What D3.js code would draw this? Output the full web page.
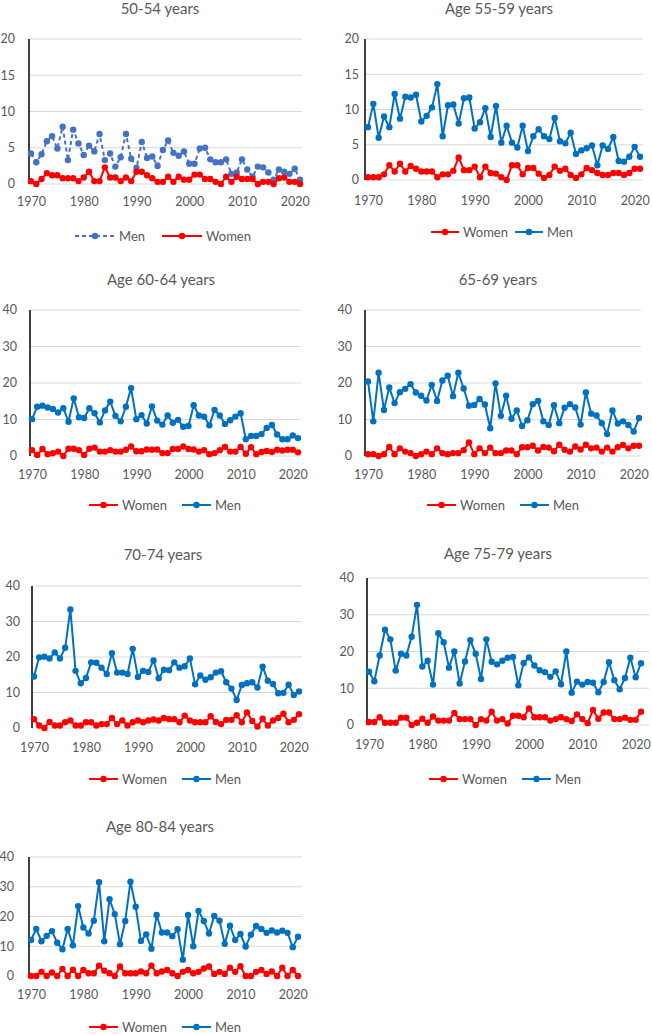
<!DOCTYPE html>
<html>
<head>
<meta charset="utf-8">
<script src="https://cdn.jsdelivr.net/npm/d3@7"></script>
<style>
  html, body { margin: 0; padding: 0; background: #fff; }
  svg { display: block; }
  text { font-family: Lato, "Open Sans", sans-serif; fill: #595959; }
</style>
</head>
<body>
<svg id="chart" width="652" height="1034"></svg>
<script>
// ---------------- DATA ----------------
const years = [1970,1971,1972,1973,1974,1975,1976,1977,1978,1979,1980,1981,1982,1983,1984,1985,1986,1987,1988,1989,
  1990,1991,1992,1993,1994,1995,1996,1997,1998,1999,2000,2001,2002,2003,2004,2005,2006,2007,2008,2009,
  2010,2011,2012,2013,2014,2015,2016,2017,2018,2019,2020,2021];

const xTickLabels = [1970, 1980, 1990, 2000, 2010, 2020];
const yTicks20 = [0, 5, 10, 15, 20];
const yTicks40 = [0, 10, 20, 30, 40];

const titles = ["50-54 years", "Age 55-59 years", "Age 60-64 years", "65-69 years", "70-74 years", "Age 75-79 years", "Age 80-84 years"];
const seriesNames = ["Women", "Men"];

const men5054 = [4.2,3.0,4.1,5.9,6.6,4.9,7.9,3.3,7.5,5.6,4.0,5.3,4.5,6.9,3.3,4.2,2.4,3.7,6.9,3.5,
  2.2,5.8,3.6,3.8,2.5,4.7,6.0,4.3,3.9,4.5,2.8,2.8,4.9,5.0,3.4,3.0,3.0,3.4,1.4,1.6,
  3.4,2.0,1.0,2.4,2.3,1.6,0.6,2.0,1.7,1.4,2.1,0.6];
const women5054 = [0.4,0.0,0.7,1.5,1.2,1.2,0.8,0.8,0.8,0.4,0.9,1.7,0.4,0.4,2.3,0.9,0.9,0.4,0.9,0.4,
  1.7,1.7,1.2,0.8,0.3,0.3,1.0,0.3,1.0,0.6,0.6,1.3,1.3,0.7,0.7,0.3,0.0,1.0,0.3,1.0,
  0.7,0.7,0.7,0.0,0.3,0.3,0.0,0.8,0.9,0.3,0.3,0.0];

const men5559 = [7.5,10.8,6.0,9.0,7.5,12.2,8.7,11.8,11.7,12.1,8.3,9.1,10.3,13.6,6.2,10.6,10.7,8.0,11.6,11.7,
  7.3,8.2,10.2,6.1,10.5,5.3,7.7,5.3,4.6,7.7,4.1,6.2,7.2,6.2,5.8,8.8,5.5,5.2,6.7,3.7,
  4.2,4.5,4.9,2.1,4.9,4.4,6.1,2.7,2.6,3.3,4.7,3.3];
const women5559 = [0.4,0.4,0.4,0.8,2.1,1.2,2.3,1.2,2.0,1.6,1.2,1.2,1.2,0.4,0.8,0.8,1.3,3.2,1.4,1.4,
  1.9,0.4,1.9,1.0,0.9,0.4,0.0,2.1,2.1,0.8,1.7,1.7,0.9,0.3,0.7,1.9,1.3,1.6,0.7,0.3,
  0.8,1.7,1.4,1.0,0.7,0.7,1.0,1.0,0.7,1.0,1.6,1.6];

const men6064 = [10.1,13.5,13.8,13.3,12.9,11.9,13.1,9.4,15.8,10.6,10.4,13.1,11.7,9.2,12.5,14.9,11.0,9.5,13.5,18.6,
  10.1,11.2,8.9,13.6,9.7,8.6,11.1,9.1,9.9,8.0,8.2,13.9,11.1,10.8,8.4,12.6,11.1,8.8,9.8,10.8,
  11.7,4.6,5.5,5.5,6.0,7.7,8.5,5.9,4.6,4.6,5.6,4.9];
const women6064 = [1.6,0.3,1.9,0.5,0.8,1.2,0.0,2.0,2.0,1.6,0.3,2.0,2.3,1.2,1.2,1.6,1.2,1.2,1.7,2.6,
  1.3,1.3,1.8,1.7,1.8,0.8,0.8,1.9,1.9,2.6,1.9,1.8,1.2,1.6,0.5,0.8,1.6,2.5,1.2,1.2,
  2.5,0.6,2.4,0.5,1.1,1.4,1.1,1.7,1.5,1.7,1.7,1.0];

const men6569 = [20.4,9.5,22.8,12.6,18.8,14.5,17.5,18.4,19.7,17.4,16.5,15.2,19.5,15.1,20.7,22.0,16.4,22.8,18.5,13.8,
  14.0,15.6,14.1,7.6,19.9,11.0,16.5,10.2,12.5,8.2,9.8,14.2,15.1,9.5,8.5,13.9,9.0,13.2,14.2,13.3,
  8.6,17.4,11.6,11.1,9.0,6.0,12.5,8.9,9.5,8.5,6.7,10.4];
const women6569 = [0.5,0.5,0.0,0.5,2.5,0.5,2.1,1.2,0.8,0.0,0.5,1.2,0.5,2.1,0.8,0.5,0.8,0.8,1.6,3.7,
  0.5,2.1,0.8,2.3,0.8,0.8,1.5,1.5,0.5,2.4,2.4,2.8,1.5,2.5,2.3,1.3,3.1,1.7,1.2,2.6,
  1.8,3.1,2.1,2.3,1.2,2.3,1.2,2.4,3.0,2.1,2.8,2.8];

const men7074 = [14.5,19.9,20.1,19.6,21.3,19.6,22.6,33.4,16.1,12.6,14.1,18.5,18.4,17.0,15.2,21.1,15.6,15.6,15.2,22.3,
  14.4,16.1,15.8,19.0,14.0,16.4,16.3,18.5,17.0,17.4,19.6,12.3,14.8,13.6,14.3,15.6,16.0,12.9,11.1,7.9,
  12.1,12.6,12.9,11.4,17.3,13.3,12.4,9.8,9.9,12.2,9.3,10.3];
const women7074 = [2.5,0.7,0.0,1.7,0.7,0.7,1.6,2.1,0.7,0.7,1.6,1.6,0.7,1.1,1.1,2.8,1.1,2.1,0.7,1.6,
  2.1,1.6,2.1,2.4,2.1,2.8,2.5,2.5,1.6,3.5,2.1,1.6,1.6,1.6,3.3,1.7,1.1,2.3,2.3,3.6,
  1.6,4.4,2.0,0.4,2.6,0.7,2.1,2.8,4.0,1.6,2.3,3.9];

const men7579 = [14.5,11.9,18.9,25.9,23.3,14.8,19.4,18.9,24.0,32.7,15.9,17.5,11.0,25.0,22.5,15.6,20.0,11.3,17.3,23.1,
  19.4,12.5,23.3,17.2,16.5,17.5,18.3,18.5,10.8,16.9,18.4,16.2,14.9,14.4,13.1,14.6,11.1,20.0,8.8,11.8,
  11.0,11.7,11.5,8.9,11.7,17.1,12.2,9.7,12.8,18.3,13.0,16.8];
const women7579 = [0.8,0.8,2.1,0.6,0.6,0.6,2.0,2.0,0.0,0.6,1.7,0.6,2.3,1.2,1.2,1.2,3.3,1.6,1.6,1.6,
  0.0,1.6,1.2,3.6,1.2,1.6,0.4,2.5,2.5,2.1,4.5,2.1,2.1,2.1,1.2,1.6,2.1,1.6,1.1,2.9,
  1.6,0.5,4.1,1.7,3.4,3.4,1.6,1.6,2.0,1.4,1.4,3.6];

const men8084 = [12.1,15.8,11.7,13.5,15.1,11.2,9.0,15.8,10.3,23.5,16.3,14.3,18.6,31.5,11.7,25.8,20.8,10.7,18.5,31.7,
  23.3,11.8,14.0,9.2,20.5,14.6,14.6,13.4,15.7,5.5,20.5,10.0,21.9,18.5,14.3,20.2,18.6,10.8,16.9,12.1,
  14.1,9.9,13.9,16.8,15.8,14.5,15.3,14.6,15.2,14.5,9.7,13.2];
const women8084 = [0.0,0.0,1.4,0.0,1.2,0.0,2.4,0.0,2.1,0.0,2.0,0.9,0.9,3.5,1.8,0.9,0.0,3.2,0.9,0.9,
  0.9,1.5,0.9,3.5,0.9,1.5,2.0,0.9,0.0,1.4,2.0,0.9,1.4,2.5,3.2,0.7,1.4,0.7,2.8,1.4,
  3.3,0.0,0.0,1.4,2.0,0.7,1.5,0.0,2.8,0.0,2.0,0.0];

// ---------------- LAYOUT ----------------
const panels = [
  { title: titles[0], men: men5054, women: women5054, yTicks: yTicks20, axisX: 29, right: 302, x0: 31, x1: 300, top: 39, bottom: 184,
    titleX: 160, titleY: 14, tickY: 206, labelRight: 15, legendY: 236, legendCx: 163, legendOrder: ["Men","Women"], lineLen: 40, itemGap: 17, dashedMen: true },
  { title: titles[1], men: men5559, women: women5559, yTicks: yTicks20, axisX: 365, right: 643, x0: 368, x1: 640, top: 39, bottom: 180,
    titleX: 499, titleY: 14, tickY: 205, labelRight: 359, legendY: 232, legendCx: 502, legendOrder: ["Women","Men"], lineLen: 28, itemGap: 7 },
  { title: titles[2], men: men6064, women: women6064, yTicks: yTicks40, axisX: 30, right: 301, x0: 32, x1: 298, top: 310, bottom: 456,
    titleX: 161, titleY: 285, tickY: 479, labelRight: 17, legendY: 505, legendCx: 165, legendOrder: ["Women","Men"], lineLen: 29, itemGap: 15 },
  { title: titles[3], men: men6569, women: women6569, yTicks: yTicks40, axisX: 365, right: 641, x0: 368, x1: 639, top: 310, bottom: 456,
    titleX: 498, titleY: 285, tickY: 479, labelRight: 352, legendY: 505, legendCx: 503, legendOrder: ["Women","Men"], lineLen: 29, itemGap: 15 },
  { title: titles[4], men: men7074, women: women7074, yTicks: yTicks40, axisX: 32, right: 302, x0: 34, x1: 299, top: 586, bottom: 728,
    titleX: 163, titleY: 560, tickY: 752, labelRight: 20, legendY: 779, legendCx: 165, legendOrder: ["Women","Men"], lineLen: 29, itemGap: 15 },
  { title: titles[5], men: men7579, women: women7579, yTicks: yTicks40, axisX: 367, right: 649, x0: 369, x1: 641, top: 578, bottom: 725,
    titleX: 498, titleY: 559, tickY: 749, labelRight: 354, legendY: 779, legendCx: 505, legendOrder: ["Women","Men"], lineLen: 29, itemGap: 15 },
  { title: titles[6], men: men8084, women: women8084, yTicks: yTicks40, axisX: 29, right: 302, x0: 31, x1: 298, top: 857, bottom: 976,
    titleX: 160, titleY: 832, tickY: 999, labelRight: 14, legendY: 1027, legendCx: 165, legendOrder: ["Women","Men"], lineLen: 29, itemGap: 15 }
];

const RED = "#FF0000";
const BLUE = "#0070C0";
const BLUE_DASH = "#4472C4";

const svg = d3.select("#chart");

// measure helper
const measurer = svg.append("text").attr("font-size", 13).attr("visibility", "hidden");
function textWidth(s, size) {
  measurer.attr("font-size", size).text(s);
  return measurer.node().getComputedTextLength();
}

panels.forEach(p => {
  const g = svg.append("g");
  const yMax = p.yTicks[p.yTicks.length - 1];
  const x = d3.scaleLinear().domain([years[0], years[years.length - 1]]).range([p.x0, p.x1]);
  const y = d3.scaleLinear().domain([0, yMax]).range([p.bottom, p.top]);

  // title
  g.append("text").attr("x", p.titleX).attr("y", p.titleY)
    .attr("text-anchor", "middle").attr("font-size", 15).text(p.title);

  // gridlines
  g.selectAll("line.grid").data(p.yTicks).join("line")
    .attr("x1", p.axisX).attr("x2", p.right)
    .attr("y1", d => y(d)).attr("y2", d => y(d))
    .attr("stroke", "#D9D9D9").attr("stroke-width", 1.2);

  // y tick labels
  g.selectAll("text.ytick").data(p.yTicks).join("text")
    .attr("x", p.labelRight).attr("y", d => y(d)).attr("dy", "0.35em")
    .attr("text-anchor", "end").attr("font-size", 12.5).text(d => d);

  // y axis line
  g.append("line").attr("x1", p.axisX).attr("x2", p.axisX)
    .attr("y1", p.top).attr("y2", p.bottom)
    .attr("stroke", "#000").attr("stroke-width", 1.5);

  // x axis labels via d3 axis
  const xAxis = d3.axisBottom(x).tickValues(xTickLabels).tickFormat(d3.format("d")).tickSize(0).tickPadding(0);
  const ax = g.append("g").attr("transform", `translate(0,${p.tickY - 9})`).call(xAxis);
  ax.select(".domain").remove();
  ax.selectAll("text").attr("font-size", 12.5).attr("fill", "#595959")
    .style("font-family", "Lato, 'Open Sans', sans-serif");

  const line = d3.line().x((d, i) => x(years[i])).y(d => y(d));

  function drawSeries(vals, color, dashed) {
    g.append("path").datum(vals).attr("d", line)
      .attr("fill", "none").attr("stroke", color).attr("stroke-width", 2)
      .attr("stroke-linejoin", "round")
      .attr("stroke-dasharray", dashed ? "4,3" : null);
    g.selectAll(null).data(vals).join("circle")
      .attr("cx", (d, i) => x(years[i])).attr("cy", d => y(d))
      .attr("r", 3.2).attr("fill", color);
  }

  if (p.dashedMen) {
    drawSeries(p.men, BLUE_DASH, true);
    drawSeries(p.women, RED, false);
  } else {
    drawSeries(p.women, RED, false);
    drawSeries(p.men, BLUE, false);
  }

  // legend
  const items = p.legendOrder.map(name => ({
    name,
    color: name === "Men" ? (p.dashedMen ? BLUE_DASH : BLUE) : RED,
    dashed: name === "Men" && p.dashedMen,
    tw: textWidth(name, 13)
  }));
  const gap = 4;
  const total = items.reduce((s, it) => s + p.lineLen + gap + it.tw, 0) + p.itemGap * (items.length - 1);
  let cx = p.legendCx - total / 2;
  items.forEach(it => {
    g.append("line").attr("x1", cx).attr("x2", cx + p.lineLen)
      .attr("y1", p.legendY).attr("y2", p.legendY)
      .attr("stroke", it.color).attr("stroke-width", 2)
      .attr("stroke-dasharray", it.dashed ? "4,3" : null);
    g.append("circle").attr("cx", cx + p.lineLen / 2).attr("cy", p.legendY).attr("r", 3.2).attr("fill", it.color);
    g.append("text").attr("x", cx + p.lineLen + gap).attr("y", p.legendY).attr("dy", "0.35em")
      .attr("font-size", 13).text(it.name);
    cx += p.lineLen + gap + it.tw + p.itemGap;
  });
});
measurer.remove();
</script>
</body>
</html>
